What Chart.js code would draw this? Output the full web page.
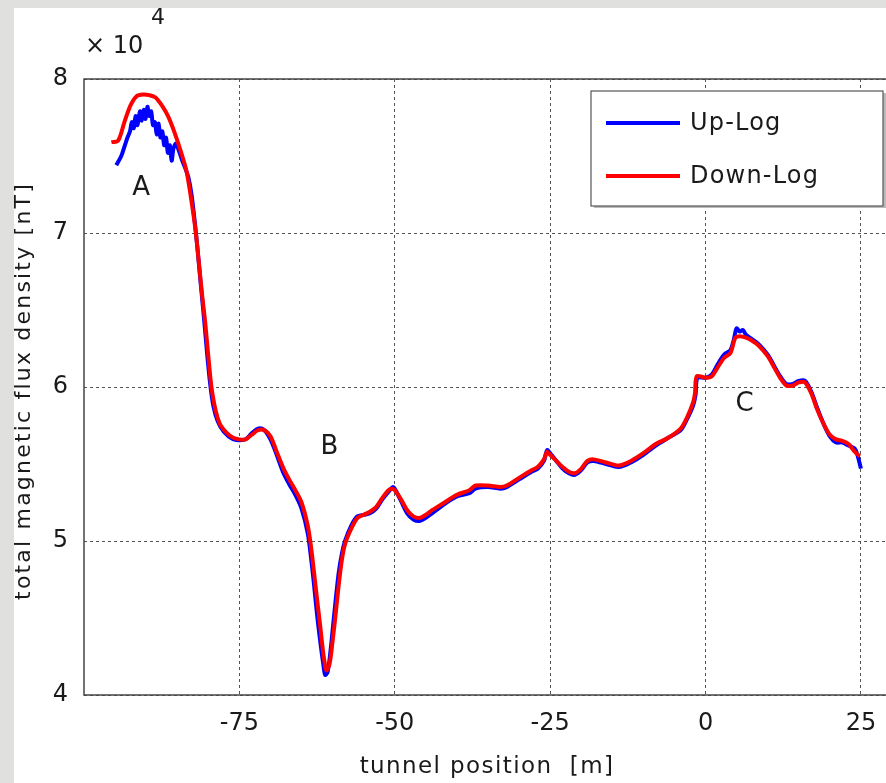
<!DOCTYPE html>
<html>
<head>
<meta charset="utf-8">
<script src="https://cdn.jsdelivr.net/npm/chart.js@4/dist/chart.umd.min.js"></script>
<style>
  html, body { margin: 0; padding: 0; overflow: hidden; }
  body { width: 886px; height: 783px; background: #e0e0de; position: relative; }
  #card { position: absolute; left: 14px; top: 8px; width: 900px; height: 800px; background: #fff; }
  #c { position: absolute; left: 0; top: 0; }
</style>
</head>
<body>
<div id="card"></div>
<canvas id="c" width="900" height="783"></canvas>
<script>
// tunnel position [m] and total flux density [x 10^4 nT]
let downX = [-95.6, -94.5, -93.5, -92.5, -91.5, -90.5, -89.5, -88.5, -87.5, -86.5, -85.5, -84.5, -83.5, -82.5, -82, -81.5, -81, -80.5, -80, -79.5, -79, -78.5, -78, -77, -76, -75, -74, -73, -72, -71, -70, -69, -68, -67, -66, -65, -64, -63.5, -63, -62.5, -62, -61.5, -61, -60.5, -60, -59.5, -59, -58.5, -58, -57, -56, -55, -54, -53, -52, -51, -50.5, -50, -49, -48, -47, -46, -45, -44, -42, -40, -38, -37, -35, -33, -32, -30, -28, -27, -26, -25.5, -25, -24, -23, -22, -21, -20, -19, -18, -16, -14, -12, -10, -8, -6, -4, -3, -2, -1.7, -1.4, 0, 1, 2, 3, 4, 4.8, 5.5, 6.5, 7.5, 8.5, 10, 11, 12, 13, 14, 15, 16, 17, 18, 19, 20, 21, 22, 23, 24, 24.8];
let downY = [7.59, 7.60, 7.72, 7.83, 7.89, 7.90, 7.895, 7.88, 7.83, 7.76, 7.66, 7.54, 7.40, 7.15, 7.0, 6.8, 6.6, 6.42, 6.2, 6.0, 5.88, 5.80, 5.75, 5.70, 5.67, 5.66, 5.66, 5.69, 5.72, 5.72, 5.68, 5.58, 5.48, 5.40, 5.33, 5.25, 5.10, 4.97, 4.80, 4.62, 4.45, 4.27, 4.16, 4.20, 4.35, 4.53, 4.72, 4.88, 4.98, 5.08, 5.15, 5.17, 5.19, 5.22, 5.28, 5.33, 5.34, 5.33, 5.27, 5.20, 5.16, 5.15, 5.17, 5.20, 5.25, 5.30, 5.33, 5.36, 5.36, 5.35, 5.36, 5.41, 5.46, 5.48, 5.53, 5.58, 5.56, 5.52, 5.48, 5.45, 5.44, 5.47, 5.52, 5.53, 5.51, 5.49, 5.52, 5.57, 5.63, 5.67, 5.73, 5.80, 5.90, 5.96, 6.07, 6.06, 6.07, 6.13, 6.19, 6.22, 6.32, 6.33, 6.32, 6.30, 6.27, 6.20, 6.13, 6.06, 6.01, 6.01, 6.03, 6.03, 5.96, 5.85, 5.76, 5.69, 5.66, 5.65, 5.63, 5.58, 5.55];

let upX = [-94.8, -94, -93.5, -93, -92.6, -92.3, -92, -91.7, -91.4, -91, -90.7, -90.4, -90.1, -89.8, -89.5, -89.2, -88.9, -88.6, -88.3, -88, -87.7, -87.4, -87.1, -86.8, -86.5, -86.2, -85.9, -85.6, -85.2, -84.7, -84.2, -83.7, -83.2, -82.7, -82.2, -81.7, -81.2, -80.7, -80.2, -79.7, -79.2, -78.5, -77.5, -76, -75, -74, -73, -72, -71, -70, -69, -68, -67, -66, -65, -64, -63.5, -63, -62.5, -62, -61.5, -61.2, -60.8, -60.3, -60, -59.5, -59, -58.5, -58, -57, -56, -55, -54, -53, -52, -51, -50.3, -50, -49, -48, -47, -46, -45, -44, -42, -40, -38, -37, -35, -33, -32, -30, -28, -27, -26, -25.5, -25, -24, -23, -22, -21, -20, -19, -18, -16, -14, -12, -10, -8, -6, -4, -3, -2, -1.6, -1.3, 0, 1, 2, 3, 4, 4.5, 5, 5.5, 6, 6.5, 7.5, 8.5, 10, 11, 12, 13, 14, 15, 16, 17, 18, 19, 20, 21, 22, 23, 24, 24.5, 25];
let upY = [7.44, 7.50, 7.56, 7.62, 7.66, 7.72, 7.68, 7.76, 7.70, 7.79, 7.73, 7.80, 7.74, 7.82, 7.76, 7.79, 7.70, 7.72, 7.64, 7.71, 7.62, 7.66, 7.57, 7.62, 7.52, 7.57, 7.47, 7.55, 7.58, 7.53, 7.47, 7.42, 7.36, 7.25, 7.08, 6.88, 6.66, 6.45, 6.22, 6.02, 5.88, 5.78, 5.71, 5.66, 5.655, 5.66, 5.70, 5.73, 5.72, 5.66, 5.56, 5.45, 5.37, 5.30, 5.21, 5.05, 4.90, 4.72, 4.52, 4.35, 4.20, 4.13, 4.15, 4.30, 4.42, 4.62, 4.80, 4.92, 5.00, 5.10, 5.16, 5.17, 5.18, 5.21, 5.27, 5.32, 5.35, 5.34, 5.26, 5.18, 5.14, 5.13, 5.15, 5.18, 5.24, 5.29, 5.31, 5.34, 5.35, 5.34, 5.35, 5.40, 5.45, 5.47, 5.52, 5.59, 5.57, 5.52, 5.47, 5.44, 5.43, 5.46, 5.51, 5.52, 5.50, 5.48, 5.51, 5.56, 5.62, 5.67, 5.72, 5.79, 5.88, 5.95, 6.06, 6.06, 6.08, 6.15, 6.21, 6.24, 6.30, 6.38, 6.36, 6.37, 6.34, 6.31, 6.28, 6.21, 6.14, 6.07, 6.02, 6.02, 6.04, 6.04, 5.97, 5.86, 5.76, 5.68, 5.64, 5.64, 5.62, 5.60, 5.55, 5.47];

let xTicks = [-75, -50, -25, 0, 25];
let yTicks = [4, 5, 6, 7, 8];
let seriesNames = ['Up-Log', 'Down-Log'];
let seriesColors = ['#0000ff', '#ff0000'];
let notes = [['A', -90.8, 7.29], ['B', -60.5, 5.61], ['C', 6.3, 5.89]];
let xTitle = 'tunnel position  [m]';
let yTitle = 'total magnetic flux density [nT]';

const FONT = '"DejaVu Sans", Verdana, sans-serif';
const INK = '#1a1a1a';

function toPoints(xs, ys) {
  return xs.map((x, i) => ({ x: x, y: ys[i] }));
}

const extras = {
  id: 'extras',
  beforeDatasetsDraw(chart) {
    const ctx = chart.ctx, a = chart.chartArea;
    ctx.save();
    ctx.strokeStyle = '#444';
    ctx.lineWidth = 1.5;
    ctx.strokeRect(a.left, a.top, a.right - a.left, a.bottom - a.top);
    ctx.restore();
  },
  afterDraw(chart) {
    const ctx = chart.ctx, sx = chart.scales.x, sy = chart.scales.y, a = chart.chartArea;
    ctx.save();
    ctx.fillStyle = INK;
    ctx.textBaseline = 'middle';
    // axis titles
    ctx.font = '23px ' + FONT;
    ctx.textAlign = 'center';
    ctx.letterSpacing = '1.4px';
    ctx.fillText(xTitle, 487, 767);
    ctx.save();
    ctx.translate(24, (a.top + a.bottom) / 2 + 4);
    ctx.rotate(-Math.PI / 2);
    ctx.font = '22px ' + FONT;
    ctx.letterSpacing = '2.2px';
    ctx.fillText(yTitle, 0, 0);
    ctx.restore();
    ctx.letterSpacing = '0px';
    // exponent
    ctx.font = '24px ' + FONT;
    ctx.textAlign = 'left';
    ctx.fillText('\u00d7 10', 85, 47);
    ctx.font = '22px ' + FONT;
    ctx.fillText('4', 151, 18);
    // annotations
    ctx.font = '26px ' + FONT;
    ctx.textAlign = 'center';
    notes.forEach(n => ctx.fillText(n[0], sx.getPixelForValue(n[1]), sy.getPixelForValue(n[2])));
    // legend
    const bx = 591, by = 91, bw = 292, bh = 115;
    ctx.fillStyle = '#bbb';
    ctx.fillRect(bx + 3, by + 2, bw, bh);
    ctx.fillStyle = '#fff';
    ctx.fillRect(bx, by, bw, bh);
    ctx.strokeStyle = '#555';
    ctx.lineWidth = 1.2;
    ctx.strokeRect(bx, by, bw, bh);
    ctx.font = '24px ' + FONT;
    ctx.letterSpacing = '1.2px';
    ctx.textAlign = 'left';
    seriesNames.forEach((name, i) => {
      const y = 123 + i * 53;
      ctx.strokeStyle = seriesColors[i];
      ctx.lineWidth = 4;
      ctx.beginPath();
      ctx.moveTo(606, y);
      ctx.lineTo(680, y);
      ctx.stroke();
      ctx.fillStyle = INK;
      ctx.fillText(name, 690, y + 1);
    });
    ctx.restore();
  }
};

new Chart(document.getElementById('c'), {
  type: 'scatter',
  data: {
    datasets: [
      { label: seriesNames[0], data: toPoints(upX, upY), order: 2, showLine: true, borderColor: seriesColors[0], borderWidth: 4, pointRadius: 0, tension: 0.3 },
      { label: seriesNames[1], data: toPoints(downX, downY), order: 1, showLine: true, borderColor: seriesColors[1], borderWidth: 4, pointRadius: 0, tension: 0.3 }
    ]
  },
  options: {
    responsive: false,
    animation: false,
    layout: { padding: { top: 79, right: 8, left: 0, bottom: 0 } },
    plugins: { legend: { display: false }, tooltip: { enabled: false } },
    scales: {
      x: {
        type: 'linear', min: -100, max: 30,
        afterBuildTicks: s => { s.ticks = xTicks.map(v => ({ value: v })); },
        afterFit: s => { s.height = 88; },
        grid: { color: '#555', lineWidth: 1, drawTicks: false },
        border: { display: false, dash: [3, 3] },
        ticks: { color: INK, font: { family: FONT, size: 24 }, padding: 14, maxRotation: 0 }
      },
      y: {
        type: 'linear', min: 4, max: 8,
        afterBuildTicks: s => { s.ticks = yTicks.map(v => ({ value: v })); },
        afterFit: s => { s.width = 84; },
        grid: { color: '#555', lineWidth: 1, drawTicks: false },
        border: { display: false, dash: [3, 3] },
        ticks: { color: INK, font: { family: FONT, size: 24 }, padding: 16 }
      }
    }
  },
  plugins: [extras]
});
</script>
</body>
</html>
